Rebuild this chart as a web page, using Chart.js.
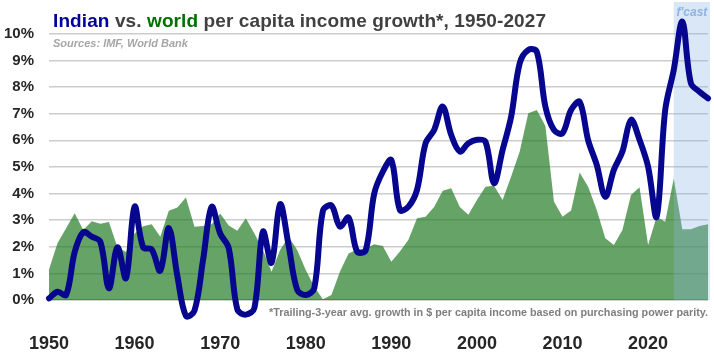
<!DOCTYPE html>
<html>
<head>
<meta charset="utf-8">
<script src="https://cdn.jsdelivr.net/npm/chart.js@4"></script>
<style>
html,body{margin:0;padding:0;background:#fff;}
#wrap{width:714px;height:357px;position:relative;}
</style>
</head>
<body>
<div id="wrap"><canvas id="c" width="714" height="357"></canvas></div>
<script>
const years = [1950,1951,1952,1953,1954,1955,1956,1957,1958,1959,
1960,1961,1962,1963,1964,1965,1966,1967,1968,1969,
1970,1971,1972,1973,1974,1975,1976,1977,1978,1979,
1980,1981,1982,1983,1984,1985,1986,1987,1988,1989,
1990,1991,1992,1993,1994,1995,1996,1997,1998,1999,
2000,2001,2002,2003,2004,2005,2006,2007,2008,2009,
2010,2011,2012,2013,2014,2015,2016,2017,2018,2019,
2020,2021,2022,2023,2024,2025,2026,2027];

const indiaGrowth = [0.06,0.31,0.19,1.8,2.55,2.38,2.19,0.44,1.98,0.82,
3.51,1.98,1.9,1.1,2.7,0.9,-0.6,-0.4,1.5,3.5,
2.5,1.95,-0.35,-0.55,-0.3,2.57,1.4,3.6,2.05,0.38,
0.19,0.45,3.35,3.55,2.76,3.1,1.82,1.86,4.0,4.82,
5.26,3.38,3.51,4.14,5.89,6.39,7.27,6.2,5.58,5.89,
6.02,5.95,4.39,5.64,6.89,8.9,9.4,9.33,7.27,6.39,
6.27,7.14,7.45,6.0,5.08,3.88,4.89,5.58,6.77,6.02,
5.01,3.13,7.14,8.65,10.46,8.15,7.83,7.58];

const worldGrowth = [1.15,2.14,2.7,3.26,2.63,2.96,2.87,2.93,1.98,1.8,
2.5,2.77,2.85,2.38,3.35,3.48,3.85,2.75,2.78,2.85,
3.25,2.8,2.6,3.07,2.5,1.88,1.06,1.88,2.38,1.88,
1.13,0.5,0.03,0.19,1.07,1.75,1.9,1.94,2.1,2.03,
1.44,1.82,2.26,3.07,3.13,3.5,4.11,4.2,3.5,3.2,
3.76,4.26,4.29,3.76,4.64,5.58,7.02,7.14,6.54,3.7,
3.13,3.36,4.79,4.26,3.38,2.32,2.07,2.63,3.95,4.24,
2.07,3.13,2.94,4.57,2.66,2.66,2.78,2.85];

const xTickYears = [1950,1960,1970,1980,1990,2000,2010,2020];
const forecastStart = 2023;
const yTickMax = 10;
const titleParts = [
  ['Indian', '#00009c'],
  [' vs. ', '#404040'],
  ['world', '#007000'],
  [' per capita income growth*, 1950-2027', '#404040']
];
const subtitleText = 'Sources: IMF, World Bank';
const footnoteText = '*Trailing-3-year avg. growth in $ per capita income based on purchasing power parity.';
const forecastLabel = "f'cast";

const FONT = '"Liberation Sans", Arial, sans-serif';

const bandPlugin = {
  id: 'band',
  afterDatasetDraw(chart, args) {
    if (args.index !== 1) return;
    const {ctx, chartArea} = chart;
    const xs = chart.scales.x;
    const x0 = xs.getPixelForValue(forecastStart);
    ctx.save();
    ctx.fillStyle = 'rgba(141,180,226,0.32)';
    ctx.fillRect(x0, chartArea.top, chartArea.right + 2 - x0, chartArea.bottom - chartArea.top);
    ctx.restore();
  }
};

const textPlugin = {
  id: 'texts',
  afterDraw(chart) {
    const {ctx, chartArea} = chart;
    ctx.save();
    ctx.font = 'bold 19px ' + FONT;
    ctx.textBaseline = 'alphabetic';
    ctx.textAlign = 'left';
    ctx.letterSpacing = '0.1px';
    let x = 53;
    for (const [t, c] of titleParts) {
      ctx.fillStyle = c;
      ctx.fillText(t, x, 27);
      x += ctx.measureText(t).width;
    }
    ctx.letterSpacing = '0px';
    ctx.font = 'italic bold 11px ' + FONT;
    ctx.fillStyle = '#a6a6a6';
    ctx.fillText(subtitleText, 53, 47);
    ctx.font = 'bold 11px ' + FONT;
    ctx.fillStyle = '#7f7f7f';
    const w = ctx.measureText(footnoteText).width;
    const target = 439;
    ctx.save();
    ctx.translate(708 - target, 316);
    ctx.scale(target / w, 1);
    ctx.fillText(footnoteText, 0, 0);
    ctx.restore();
    const xs = chart.scales.x;
    const x0 = xs.getPixelForValue(forecastStart);
    ctx.font = 'italic bold 12px ' + FONT;
    ctx.fillStyle = '#8db4e2';
    ctx.textAlign = 'center';
    ctx.fillText(forecastLabel, (x0 + chartArea.right + 2) / 2, 16);
    ctx.restore();
  }
};

const ctx = document.getElementById('c').getContext('2d');
new Chart(ctx, {
  type: 'line',
  data: {
    datasets: [
      {
        label: 'India',
        data: years.map((y, i) => ({x: y, y: indiaGrowth[i]})),
        borderColor: '#06068f',
        borderWidth: 6,
        pointRadius: 0,
        tension: 0.35,
        fill: false,
        clip: false,
        borderCapStyle: 'round',
        borderJoinStyle: 'round',
        capBezierPoints: false
      },
      {
        label: 'World',
        data: years.map((y, i) => ({x: y, y: worldGrowth[i]})),
        borderWidth: 0,
        borderColor: 'rgba(0,0,0,0)',
        backgroundColor: 'rgba(30,120,30,0.68)',
        pointRadius: 0,
        tension: 0,
        fill: 'origin'
      }
    ]
  },
  options: {
    responsive: false,
    animation: false,
    devicePixelRatio: 1,
    layout: {padding: {left: 0, right: 6, top: 2, bottom: 0}},
    plugins: {legend: {display: false}, tooltip: {enabled: false}},
    scales: {
      x: {
        type: 'linear',
        min: 1950,
        max: 2027,
        grid: {display: false, drawTicks: false},
        border: {display: false},
        afterBuildTicks(s) { s.ticks = xTickYears.map(v => ({value: v})); },
        ticks: {
          autoSkip: false,
          maxRotation: 0,
          padding: 33,
          color: '#262626',
          font: {family: FONT, size: 18, weight: 'bold'},
          callback: v => String(v)
        },
        afterFit(s) { s.height = 57; s.paddingLeft = 0; s.paddingRight = 0; }
      },
      y: {
        min: 0,
        max: 11.2,
        grid: {
          drawTicks: false,
          lineWidth: 1.5,
          color: c => (c.tick.value > yTickMax ? 'rgba(0,0,0,0)' : (c.tick.value === 0 ? '#a6a6a6' : '#cccccc'))
        },
        border: {display: false},
        ticks: {
          stepSize: 1,
          padding: 15,
          color: '#262626',
          font: {family: FONT, size: 15, weight: 'bold'},
          callback: v => (v <= yTickMax && Number.isInteger(v) ? v + '%' : '')
        },
        afterFit(s) { s.width = 49; s.paddingTop = 0; s.paddingBottom = 0; }
      }
    }
  },
  plugins: [bandPlugin, textPlugin]
});
</script>
</body>
</html>
